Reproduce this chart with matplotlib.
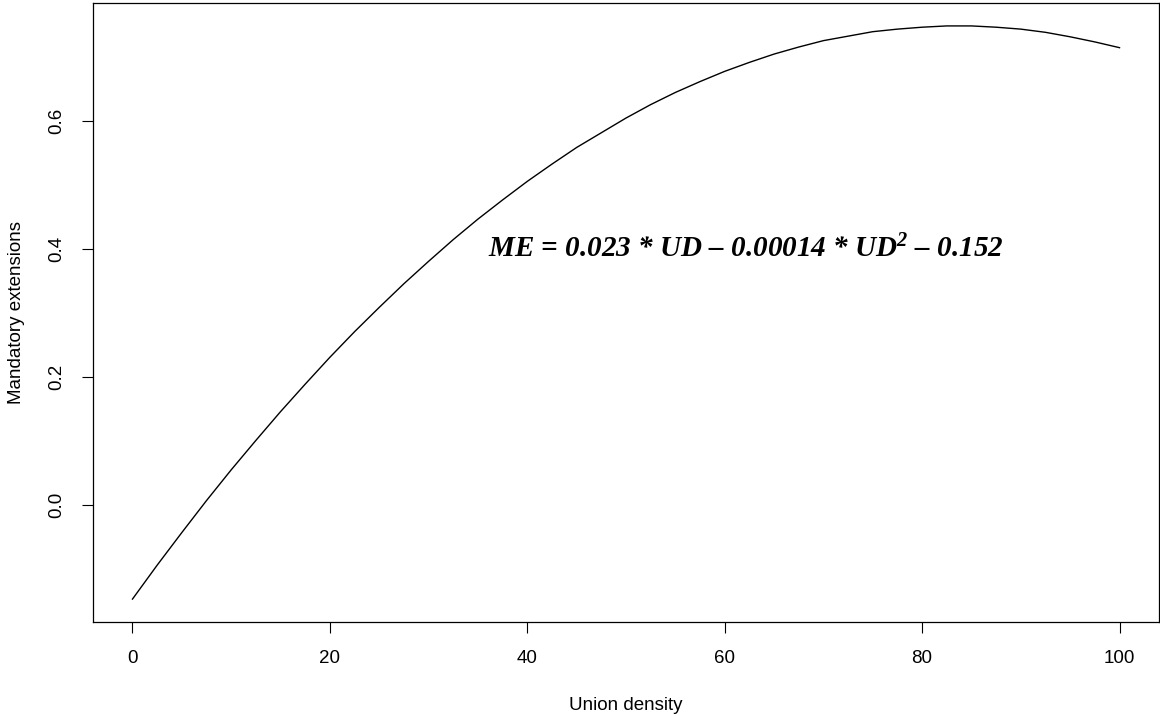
import numpy as np
import matplotlib.pyplot as plt

# values every 2.5 units of union density
union_density = [0, 2.5, 5, 7.5, 10, 12.5, 15, 17.5, 20, 22.5, 25, 27.5, 30, 32.5, 35, 37.5,
                 40, 42.5, 45, 47.5, 50, 52.5, 55, 57.5, 60, 62.5, 65, 67.5, 70, 72.5,
                 75, 77.5, 80, 82.5, 85, 87.5, 90, 92.5, 95, 97.5, 100]
mandatory_ext = [-0.147, -0.094, -0.043, 0.007, 0.055, 0.101, 0.146, 0.189, 0.231, 0.271,
                 0.309, 0.346, 0.381, 0.415, 0.447, 0.477, 0.506, 0.533, 0.559, 0.582,
                 0.605, 0.626, 0.645, 0.662, 0.678, 0.692, 0.705, 0.716, 0.726, 0.733,
                 0.740, 0.744, 0.747, 0.749, 0.749, 0.747, 0.744, 0.739, 0.732, 0.724, 0.715]

x_ticks = [0, 20, 40, 60, 80, 100]
y_ticks = [0.0, 0.2, 0.4, 0.6]

plt.rcParams['font.family'] = ['Liberation Sans', 'DejaVu Sans']
plt.rcParams['mathtext.fontset'] = 'custom'
plt.rcParams['mathtext.rm'] = 'Liberation Serif:bold:italic'
plt.rcParams['mathtext.it'] = 'Liberation Serif:bold:italic'

fig = plt.figure(figsize=(11.6, 7.16), dpi=100)
ax = fig.add_axes([93 / 1160, 1 - 622 / 716, (1159 - 93) / 1160, (622 - 3) / 716])

ax.plot(union_density, mandatory_ext, color='black', lw=1.0)
ax.margins(0.04)

ax.set_xticks(x_ticks)
ax.set_xticklabels([str(v) for v in x_ticks])
ax.set_yticks(y_ticks)
ax.set_yticklabels(['%.1f' % v for v in y_ticks], rotation=90, va='center')
ax.tick_params(direction='out', length=8, width=0.8, labelsize=13.5, pad=12)
for s in ax.spines.values():
    s.set_linewidth(0.9)

ax.set_xlabel('Union density', fontsize=13.5, labelpad=22)
ax.set_ylabel('Mandatory extensions', fontsize=13.5, labelpad=17)

ax.text(36.0, 0.40, 'ME = 0.023 * UD \u2013 0.00014 * UD$^{2}$ \u2013 0.152',
        family=['Liberation Serif', 'DejaVu Serif'], style='italic', weight='bold',
        fontsize=21, va='center', ha='left')

fig.savefig('out.png', dpi=100)
